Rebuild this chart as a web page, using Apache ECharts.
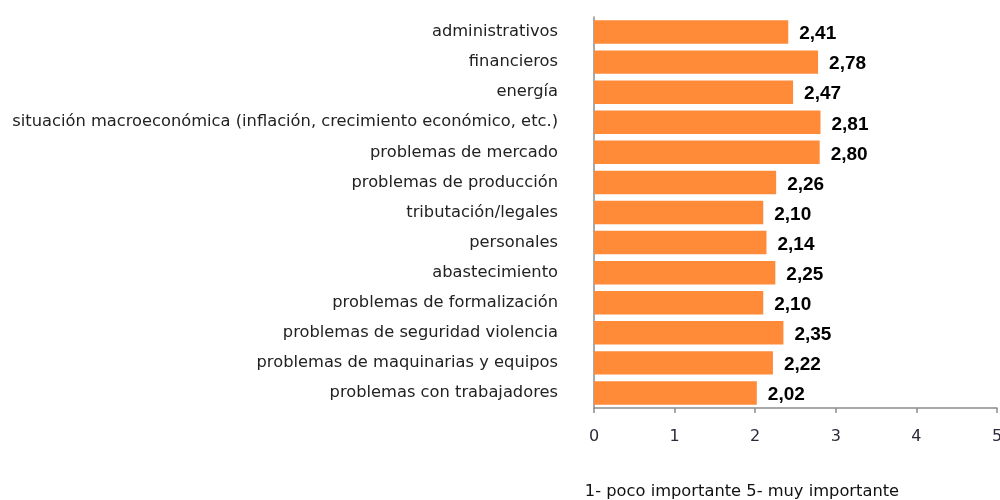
<!DOCTYPE html>
<html>
<head>
<meta charset="utf-8">
<script src="https://cdn.jsdelivr.net/npm/echarts@6/dist/echarts.min.js"></script>
<style>html,body{margin:0;padding:0;background:#fff}#c{width:1000px;height:500px}</style>
</head>
<body>
<div id="c"></div>
<script>
var categories = [
  "administrativos",
  "financieros",
  "energía",
  "situación macroeconómica (inflación, crecimiento económico, etc.)",
  "problemas de mercado",
  "problemas de producción",
  "tributación/legales",
  "personales",
  "abastecimiento",
  "problemas de formalización",
  "problemas de seguridad violencia",
  "problemas de maquinarias y equipos",
  "problemas con trabajadores"
];
var values = [2.41, 2.78, 2.47, 2.81, 2.80, 2.26, 2.10, 2.14, 2.25, 2.10, 2.35, 2.22, 2.02];
var xTicks = [0, 1, 2, 3, 4, 5];
var axisTitle = "1- poco importante 5- muy importante";

var chart = echarts.init(document.getElementById('c'), null, {renderer: 'canvas'});
chart.setOption({
  animation: false,
  backgroundColor: '#ffffff',
  grid: {left: 594, right: 3, top: 17, bottom: 92, containLabel: false, outerBoundsMode: 'none'},
  title: {
    text: axisTitle,
    left: 737, top: 479, textAlign: 'center',
    textStyle: {fontFamily: 'DejaVu Sans', fontSize: 16.3, fontWeight: 'normal', color: '#111'}
  },
  xAxis: {
    type: 'value', min: xTicks[0], max: xTicks[xTicks.length - 1], interval: 1,
    splitLine: {show: false},
    axisLine: {show: true, lineStyle: {color: '#8c8c8c', width: 1.5}},
    axisTick: {show: true, length: 5, lineStyle: {color: '#8c8c8c', width: 1.5}},
    axisLabel: {margin: 21, fontFamily: 'DejaVu Sans', fontSize: 16, color: '#2a2a3a',
      formatter: function (v) { return String(v); }}
  },
  yAxis: {
    type: 'category', data: categories, inverse: true,
    axisLine: {show: true, lineStyle: {color: '#8c8c8c', width: 1.5}},
    axisTick: {show: false},
    axisLabel: {margin: 36, fontFamily: 'DejaVu Sans', fontSize: 16.3, color: '#222'}
  },
  series: [{
    type: 'bar', data: values, barCategoryGap: '22%',
    itemStyle: {color: '#ff8a38'},
    label: {show: true, position: 'right', distance: 11, offset: [0, 2],
      fontFamily: 'Liberation Sans', fontWeight: 'bold', fontSize: 19, color: '#000',
      formatter: function (p) { return p.value.toFixed(2).replace('.', ','); }}
  }]
});
</script>
</body>
</html>
